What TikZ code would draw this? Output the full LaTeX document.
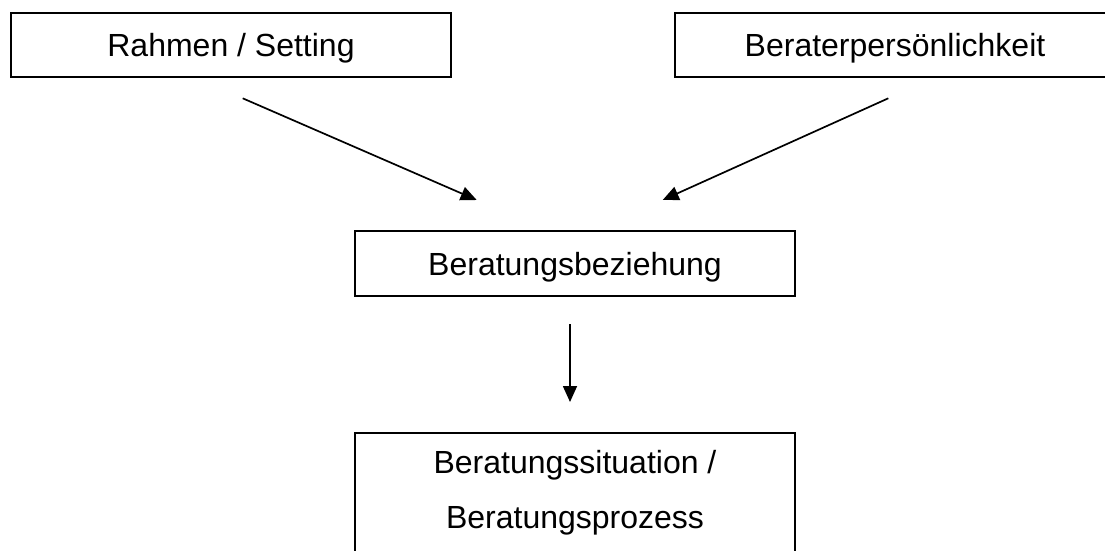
\documentclass[tikz,border=0pt]{standalone}
\usepackage{fontspec}
\setmainfont{Liberation Sans}
\usetikzlibrary{arrows.meta}
\begin{document}
\begin{tikzpicture}[x=1pt,y=1pt,
  boxbase/.style={draw=black, line width=1.5pt, minimum width=440pt, inner xsep=0pt,
    font=\fontsize{32}{55}\selectfont},
  onebox/.style={boxbase, inner ysep=0pt, text depth=0pt, minimum height=#1},
  conn/.style={line width=1.7pt, -{Triangle[length=16pt,width=14pt]}}]
\useasboundingbox (0,0) rectangle (1105,-551);
\fill[white] (0,0) rectangle (1105,-551);
\begin{scope}
\clip (0,0) rectangle (1105,-551);
\node[onebox=64pt] (rahmen) at (231,-45) {Rahmen / Setting};
\node[onebox=64pt] (berater) at (895,-45) {Beraterpersönlichkeit};
\node[onebox=65pt] (beziehung) at (575,-263.5) {Beratungsbeziehung};
\node[boxbase, anchor=north, inner ysep=18pt, align=center] (situation) at (575,-432)
  {Beratungssituation /\\Beratungsprozess};
\end{scope}
\coordinate (a1s) at (242.7,-98.3);
\coordinate (a1e) at (476.7,-200);
\coordinate (a2s) at (888.3,-98.3);
\coordinate (a2e) at (662.7,-200);
\coordinate (a3s) at (570,-324);
\coordinate (a3e) at (570,-402);
\draw[conn] (a1s) -- (a1e);
\draw[conn] (a2s) -- (a2e);
\draw[conn] (a3s) -- (a3e);
\end{tikzpicture}
\end{document}
